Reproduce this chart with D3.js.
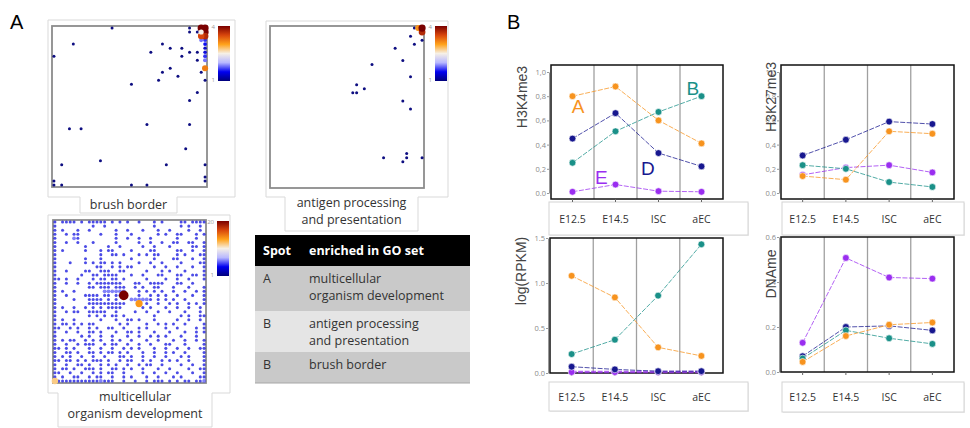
<!DOCTYPE html>
<html>
<head>
<meta charset="utf-8">
<script src="https://cdn.jsdelivr.net/npm/d3@7"></script>
<style>
    body { margin: 0; background: #fff; }
    svg text { font-family: "Open Sans", sans-serif; }
</style>
</head>
<body>
<svg id="fig" width="970" height="428"></svg>
<script>

// ---------- data ----------

// SOM maps: [column, row, value] on a 40x40 grid
const brushBorderPts = [
    [15,0,1],[35,0,1],[35,1,1],[37,1,1],[5,4,1],[0,7,1],[28,4,1],[30,5,1],[33,5,1],[25,6,1],
    [35,6,1],[37,6,1],[33,7,1],[37,8,1],[39,5,1.3],[39,6,1.4],[39,7,1.6],[39,8,1.8],[30,10,1],
    [28,11,1],[32,12,1],[27,13,1],[39,13,1],[38,11,1],[20,14,1],[37,16,1],[35,18,1],[4,25,1],
    [7,25,1],[24,24,1],[35,24,1],[34,30,1],[2,34,1],[12,33,1],[29,34,1],[39,34,1],[39,37,1],
    [39,38,1],[0,38,1],[0,39,1],[2,39,1],[20,39,1],[24,39,1],
    [38,3,1.8],[39,3,1.6],[39,4,1.5],[39,10,3.2],
    [39,0,4],[38,0,4],[39,1,4],[39,2,3.7],[38,2,3.5],[38,1,2.5]
]
const antigenPts = [
    [37,0,1],[36,2,1],[39,3,1],[37,4,1],[32,5,1],[34,8,1],[26,9,1],[36,12,1],[22,14,1],
    [24,15,1],[21,16,1],[22,16,1],[34,18,1],[36,20,1],[29,32,1],[35,31,1],[35,32,1],
    [39,32,1],[34,33,1],[38,0,3.1],[39,1,3.7],[39,0,4]
]
// multicellular organism development: o = low, b = a bit higher
const multiGrid = [
    "o.oooo.o.o oooo.o.o.o ..o...o.o. ...oo.oooo",
    "o......... o..o...... ......o... ...o.o..o.",
    "o.o...o..o ......o..o ...o...o.. o....o..o.",
    "o..o.oo... ..o...o... o......o.o ..oo...o.o",
    "o....bo... ......o..o ..o..o.... ..o....o..",
    "o..o..o... o.....o... ..o..o..o. .oo..oo..o",
    "o.......o. ....o..o.. ...o..o... o.....oo.o",
    "o.o.....o. ..o.oo.... o....oo... ..oo..o..o",
    "o......... ..o..oo.o. ..o.o.oo.. ..o.o...oo",
    "o.......o. ..o....... o.....o... .oo...o..o",
    "o...o...o. o.oo.o.o.. ..o..o..o. ...o....oo",
    "o......... .oo..o.o.o o.....o..o ..o...o..o",
    "o..o....oo ..ooo..oo. ....o...o. o...o....o",
    "o......o.. oo.oooo... o..o...oo. ..oo..oo.o",
    "oo.o..o... o.oo.oo.o. ....o....o ..o..o...o",
    "o..o..o..o .ooooooo.. .oo..oooo. ..oo..o...",
    "o........o o.ooo.ooo. .o.o..oo.. .o...o...o",
    "o.o..o.... ...bbbbbb. ..o.o.o.o. .o..o..o.o",
    "o..o....oo oo.oo.oo.. ..o..o.o.o ..o...o..o",
    "o....o...o ooo.o.o... bbbbbo.o.o .o..o....o",
    "o........o ooooooooo. ..o.o..o.. o.o..o.o.o",
    "o.o..o..o. o.o.oooo.. ...o.o...o ..o..o..o.",
    "o..o.oo..o oooo..o... .o..o..o.. o...o...o.",
    "o........o .o.o.oo.o. ......o... ...o.o..oo",
    "o.o..o.... ..o...o..o o.o...o... ..o..o..o.",
    "o.oo.o.o.o o......o.o ....o..o.o .o..o....o",
    "oo..o.o..o .o..oo..o. ..o.o....o ..o....o.o",
    "o..o..o..o o.o...o..o o.o...o... o...o..o.o",
    "o......o.o ..o..o...o ..o..o.o.o ...o...o..",
    "o.o.oo..o. o.o..o.o.. o...o..o.. .o..o..o.o",
    "o..o..o.oo o..o.oo..o ..o..o...o o...o....o",
    "oo.o.o...o ..o..o..o. o.o...o..o ..o..o..oo",
    "o..oo.o..o o.o.oo.o.o ...o..o..o .o..o....o",
    "o.o.o..o.. o..o...oo. o..o..o..o ...o.o...o",
    "oo.oo.o.o. ooo.o..o.o o..o.o..o. o.o..o...o",
    "o..o..oo.o ..o.o.o..o ..o.oo..o. ...o..o..o",
    "o.oo.o..oo o.o..oo.o. o..o...o.. o....o..oo",
    "oo..o..o.. o.o.oo..o. ...o..o..o ..o...o..o",
    "o.o..oo..o .oo..o..o. o...o..o.. .o.o....oo",
    ".ooooooooo oobooo..o. .o..o.ooo. o.o.oo.oob"
]
const multiGridValues = {o: 3.6, b: 5.5}
const multiHot = [[18,18,20],[22,20,14],[0,39,12]]

// GO enrichment table
const tableHeader = ["Spot", "enriched in GO set"]
const tableSpots = ["A", "B", "B"]
const tableSets = [["multicellular", "organism development"], ["antigen processing", "and presentation"], ["brush border"]]

// spot profiles, rows in order of spotNames
const stages = ["E12.5", "E14.5", "ISC", "aEC"]
const spotNames = ["A", "B", "D", "E"]
const spotColors = ["#f7931e", "#1a9088", "#17178f", "#9a2ef0"]

const h3k4me3 = [[0.80, 0.88, 0.60, 0.41], [0.25, 0.51, 0.67, 0.80], [0.45, 0.66, 0.33, 0.22], [0.01, 0.07, 0.015, 0.01]]
const h3k27me3 = [[0.14, 0.11, 0.51, 0.49], [0.23, 0.20, 0.09, 0.05], [0.31, 0.44, 0.59, 0.57], [0.15, 0.21, 0.23, 0.17]]
const logRpkm = [[1.08, 0.84, 0.285, 0.19], [0.21, 0.37, 0.86, 1.43], [0.07, 0.04, 0.02, 0.02], [0.01, 0.01, 0.01, 0.01]]
const dnaMe = [[0.045, 0.16, 0.21, 0.22], [0.06, 0.185, 0.15, 0.125], [0.07, 0.20, 0.205, 0.185], [0.13, 0.507, 0.42, 0.415]]

const k4Ticks = ["0.0", "0,2", "0,4", "0,6", "0,8", "1,0"]
const k27Ticks = ["0.0", "0,2", "0,4", "0,6", "0,8", "1,0"]
const rpkmTicks = ["0.0", "0.5", "1.0", "1.5"]
const dnaTicks = ["0.0", "0.2", "0.4", "0.6"]

// ---------- drawing ----------

const svg = d3.select("#fig")
const defs = svg.append("defs")

// colour ramp of the SOM maps, low to high
const somStops = ["#00007a", "#0000f0", "#b8b8ff", "#f6f0e6", "#ffa21a", "#d8460c", "#7a0000"]

defs.append("linearGradient")
    .attr("id", "somGrad")
    .attr("x1", 0).attr("y1", 1).attr("x2", 0).attr("y2", 0)
    .selectAll("stop")
    .data(somStops)
    .enter()
    .append("stop")
    .attr("offset", (d, i) => i / (somStops.length - 1))
    .attr("stop-color", d => d)

svg.append("text").attr("x", 10).attr("y", 29)
   .style("font-family", "Liberation Sans, Arial, sans-serif")
   .attr("font-size", 20).text("A")
svg.append("text").attr("x", 507).attr("y", 29)
   .style("font-family", "Liberation Sans, Arial, sans-serif")
   .attr("font-size", 20).text("B")

drawSom = function (cfg, pts, maxVal) {
    let g = svg.append("g")
    let [bx0, by0, bx1, by1] = cfg.box
    let [tx0, tx1, ty1] = cfg.tab

    // white card with the name tab hanging below it
    g.append("path")
     .attr("d", `M${bx0},${by0}H${bx1}V${by1}H${tx1}V${ty1}H${tx0}V${by1}H${bx0}Z`)
     .attr("fill", "#fff")
     .attr("stroke", "#d9d9d9")

    let [fx0, fy0, fx1, fy1] = cfg.frame
    let x = d3.scaleBand().domain(d3.range(40)).range([fx0, fx1])
    let y = d3.scaleBand().domain(d3.range(40)).range([fy0, fy1])
    let color = d3.scaleLinear()
                  .domain(somStops.map((s, i) => 1 + (maxVal - 1) * i / (somStops.length - 1)))
                  .range(somStops)
    let r = d3.scaleLinear().domain([1, maxVal]).range(cfg.r)

    g.append("rect")
     .attr("x", fx0).attr("y", fy0)
     .attr("width", fx1 - fx0).attr("height", fy1 - fy0)
     .attr("fill", "#fff")
     .attr("stroke", "#8c8c8c")
     .attr("stroke-width", 1.8)

    g.selectAll("circle.spot")
     .data(pts)
     .enter()
     .append("circle")
     .attr("class", "spot")
     .attr("cx", d => x(d[0]) + x.bandwidth() / 2)
     .attr("cy", d => y(d[1]) + y.bandwidth() / 2)
     .attr("r", d => r(d[2]))
     .attr("fill", d => color(d[2]))
     .attr("opacity", d => d[2] > maxVal / 2 ? 1 : cfg.opacity)

    // colour key
    let [cx0, cy0, cx1, cy1] = cfg.key
    g.append("rect")
     .attr("x", cx0).attr("y", cy0)
     .attr("width", cx1 - cx0).attr("height", cy1 - cy0)
     .attr("fill", "url(#somGrad)")
    g.append("text").attr("x", cx0 - 3).attr("y", cy0 + 3)
     .attr("text-anchor", "end").attr("font-size", 6).attr("fill", "#999")
     .text(maxVal)
    g.append("text").attr("x", cx0 - 3).attr("y", cy1 + 1)
     .attr("text-anchor", "end").attr("font-size", 6).attr("fill", "#999")
     .text(1)

    g.selectAll("text.tab")
     .data(cfg.label)
     .enter()
     .append("text")
     .attr("class", "tab")
     .attr("x", (tx0 + tx1) / 2)
     .attr("y", (d, i) => cfg.labelY + i * 17)
     .attr("text-anchor", "middle")
     .attr("font-size", 12.5)
     .attr("fill", "#333")
     .text(d => d)
}

let multiPts = []
multiGrid.forEach((row, j) => {
    row.replace(/ /g, "").split("").forEach((c, i) => {
        if (c !== ".") multiPts.push([i, j, multiGridValues[c]])
    })
})
multiPts = multiPts.concat(multiHot)

drawSom({box: [48, 20, 235, 197], tab: [80, 177, 213], frame: [52, 26, 207, 187],
         key: [218, 26, 230, 81], r: [1.5, 3.6], opacity: 0.95,
         label: ["brush border"], labelY: 209}, brushBorderPts, 4)
drawSom({box: [266, 21, 448, 197], tab: [285, 418, 231], frame: [270, 26, 424, 188],
         key: [435, 26, 447, 81], r: [1.5, 3.6], opacity: 0.95,
         label: ["antigen processing", "and presentation"], labelY: 207}, antigenPts, 4)
drawSom({box: [48, 215, 230, 393], tab: [58, 212, 427], frame: [53, 220, 206, 383],
         key: [217, 221, 229, 276], r: [1.0, 4.8], opacity: 0.7,
         label: ["multicellular", "organism development"], labelY: 401}, multiPts, 20)

// ---------- GO table ----------
let tableTop = [266, 311, 352]
let tableBottom = 383
let table = svg.append("g")
table.append("rect").attr("x", 255).attr("y", 235).attr("width", 215).attr("height", 31).attr("fill", "#000")
table.append("text").attr("x", 263).attr("y", 255).attr("font-size", 12.5)
     .attr("font-weight", "bold").attr("fill", "#fff").text(tableHeader[0])
table.append("text").attr("x", 309).attr("y", 255).attr("font-size", 12.5)
     .attr("font-weight", "bold").attr("fill", "#fff").text(tableHeader[1])

tableSpots.forEach((spot, i) => {
    let top = tableTop[i]
    let bottom = i < tableTop.length - 1 ? tableTop[i + 1] : tableBottom
    table.append("rect")
         .attr("x", 255).attr("y", top)
         .attr("width", 215).attr("height", bottom - top)
         .attr("fill", i % 2 === 0 ? "#c9c9c9" : "#e5e5e5")
    table.append("text").attr("x", 263).attr("y", top + 16.5)
         .attr("font-size", 12.5).attr("fill", "#333").text(spot)
    tableSets[i].forEach((line, k) => {
        table.append("text").attr("x", 309).attr("y", top + 16.5 + k * 17.5)
             .attr("font-size", 12.5).attr("fill", "#333").text(line)
    })
})
table.append("line").attr("x1", 255).attr("x2", 470).attr("y1", tableBottom).attr("y2", tableBottom)
     .attr("stroke", "#a6a6a6")

// ---------- spot profiles ----------
drawProfile = function (cfg, rows, tickLabels) {
    let g = svg.append("g")
    let [fx0, fy0, fx1, fy1] = cfg.frame
    let band = d3.scaleBand().domain(stages).range([fx0, fx1])
    let x = s => band(s) + band.bandwidth() / 2
    let y = d3.scaleLinear().domain([0, cfg.yMax]).range(cfg.yRange)

    // box holding the stage names
    let [lx0, ly0, lx1, ly1] = cfg.box
    g.append("rect").attr("x", lx0 + 1).attr("y", ly0 + 1)
     .attr("width", lx1 - lx0).attr("height", ly1 - ly0).attr("fill", "#ececec")
    g.append("rect").attr("x", lx0).attr("y", ly0)
     .attr("width", lx1 - lx0).attr("height", ly1 - ly0)
     .attr("fill", "#fff").attr("stroke", "#d4d4d4")
    g.selectAll("text.stage")
     .data(stages)
     .enter()
     .append("text")
     .attr("class", "stage")
     .attr("x", d => x(d))
     .attr("y", (ly0 + ly1) / 2 + 4)
     .attr("text-anchor", "middle")
     .attr("font-size", 10.5)
     .attr("fill", "#333")
     .text(d => d)

    // stage separators
    g.selectAll("line.sep")
     .data(stages.slice(1))
     .enter()
     .append("line")
     .attr("class", "sep")
     .attr("x1", d => band(d)).attr("x2", d => band(d))
     .attr("y1", fy0).attr("y2", fy1)
     .attr("stroke", "#a0a0a0").attr("stroke-width", 1.3)

    g.append("rect")
     .attr("x", fx0).attr("y", fy0)
     .attr("width", fx1 - fx0).attr("height", fy1 - fy0)
     .attr("fill", "none").attr("stroke", "#111").attr("stroke-width", 1.5)

    // bottom ticks
    g.selectAll("line.xt")
     .data(stages)
     .enter()
     .append("line")
     .attr("class", "xt")
     .attr("x1", d => x(d)).attr("x2", d => x(d))
     .attr("y1", fy1).attr("y2", fy1 + 3)
     .attr("stroke", "#666")

    let ticks = tickLabels.map((t, i) => i * cfg.step)
    let axis = g.append("g")
                .attr("transform", `translate(${fx0 - 2},0)`)
                .call(d3.axisLeft(y).tickValues(ticks).tickSize(2).tickSizeOuter(0)
                        .tickFormat((d, i) => tickLabels[i]))
    axis.select(".domain").attr("stroke", "#999")
    axis.selectAll(".tick line").attr("stroke", "#999")
    axis.selectAll(".tick text")
        .attr("font-size", 7.5)
        .attr("fill", "#8a8a8a")
        .style("font-family", "Open Sans, sans-serif")
        .attr("x", -3)

    g.append("text")
     .attr("transform", `translate(${cfg.titleX},${cfg.titleY}) rotate(-90)`)
     .attr("text-anchor", "middle")
     .attr("font-size", 14)
     .attr("fill", "#444")
     .style("font-family", "Liberation Sans, Arial, sans-serif")
     .text(cfg.title)

    let line = d3.line().x((d, i) => x(stages[i])).y(d => y(d))
    let order = [3, 2, 1, 0]
    order.forEach(k => {
        g.append("path")
         .attr("d", line(rows[k]))
         .attr("fill", "none")
         .attr("stroke", spotColors[k])
         .attr("stroke-width", k === 3 && cfg.thickE ? 2.5 : 1)
         .attr("stroke-dasharray", "5,1.5")
         .attr("opacity", 0.75)
    })
    order.forEach(k => {
        g.selectAll(null)
         .data(rows[k])
         .enter()
         .append("circle")
         .attr("cx", (d, i) => x(stages[i]))
         .attr("cy", d => y(d))
         .attr("r", 3.4)
         .attr("fill", spotColors[k])
         .attr("stroke", "#fff")
         .attr("stroke-width", 0.6)
    })

    if (cfg.spotLabels) {
        let xi = d3.scaleLinear().domain([0, stages.length - 1]).range([x(stages[0]), x(stages[stages.length - 1])])
        spotNames.forEach((name, k) => {
            let [pi, pv] = cfg.spotLabels[k]
            g.append("text")
             .attr("x", xi(pi))
             .attr("y", y(pv) + 7)
             .attr("text-anchor", "middle")
             .attr("font-size", 19)
             .attr("fill", spotColors[k])
             .style("font-family", "Liberation Sans, Arial, sans-serif")
             .text(name)
        })
    }
}

drawProfile({title: "H3K4me3", frame: [551, 65, 723, 199], yMax: 1, yRange: [193, 72], step: 0.2,
             box: [549, 202, 748, 235], titleX: 527, titleY: 97,
             spotLabels: [[0.13, 0.72], [2.8, 0.87], [1.75, 0.21], [0.67, 0.13]]}, h3k4me3, k4Ticks)
drawProfile({title: "H3K27me3", frame: [781, 65, 954, 199], yMax: 1, yRange: [193, 72], step: 0.2,
             box: [782, 202, 964, 235], titleX: 776, titleY: 97}, h3k27me3, k27Ticks)
drawProfile({title: "log(RPKM)", frame: [550, 238, 723, 373], yMax: 1.5, yRange: [373, 238], step: 0.5,
             box: [549, 382, 748, 411], titleX: 526, titleY: 271, thickE: true}, logRpkm, rpkmTicks)
drawProfile({title: "DNAme", frame: [781, 237, 954, 372], yMax: 0.6, yRange: [372, 237], step: 0.2,
             box: [782, 382, 964, 412], titleX: 776, titleY: 274}, dnaMe, dnaTicks)

</script>
</body>
</html>
